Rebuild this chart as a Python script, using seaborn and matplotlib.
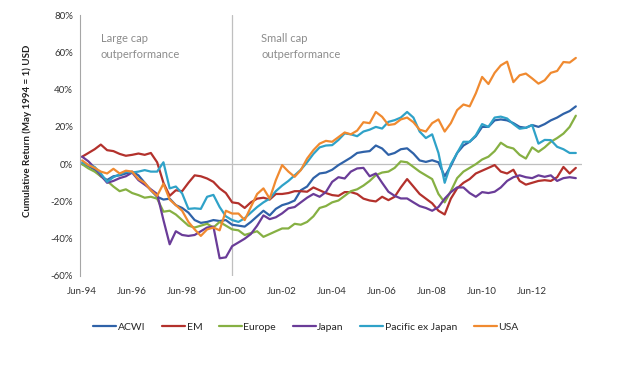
import pandas as pd
import numpy as np
import matplotlib
matplotlib.use("Agg")
import matplotlib.pyplot as plt
import matplotlib.dates as mdates
from matplotlib.ticker import FuncFormatter, FixedLocator
import seaborn as sns

# quarterly readings, Jun-94 onwards (cumulative return, %)
dates = pd.date_range("1994-06-01", periods=80, freq="3MS")

acwi = [0, -1, -3, -6.5, -8.5, -6.5, -6, -5, -4, -6,
        -10, -14, -17.5, -19, -18.5, -22, -23.5, -26, -30, -31.5,
        -31, -30, -30.5, -30, -32.5, -33, -33.5, -31, -28, -25,
        -27.5, -24, -22, -21, -19.5, -14, -12, -7.5, -5, -4.5,
        -3, -0.5, 1.5, 3.5, 6, 6.6, 7, 10, 8.4, 5,
        6, 8, 8.5, 5.7, 2, 1.2, 2.1, 1, -6.5, -1,
        6, 10, 12, 15, 20, 20, 23.5, 24, 23.5, 22,
        20, 19.5, 21, 20, 21.5, 23.5, 25, 27, 28.5, 31]

em = [4, 6, 8, 10.5, 7.5, 7, 5.5, 4.5, 5, 5.7,
      5, 6, 1, -10, -17, -14, -14.5, -10, -6, -6.5,
      -7.7, -9.5, -13, -15.5, -20.5, -21, -23.5, -20.5, -18.5, -18,
      -19, -16, -16, -15.5, -14.5, -14.5, -14.8, -12.5, -14, -15.5,
      -16.6, -17, -15, -15, -16, -18.5, -19.5, -20, -17.5, -19.3,
      -17.5, -12.5, -8, -12, -16, -18.5, -21, -25, -27, -18.5,
      -13, -10, -8, -5, -3.5, -2, -0.5, -4, -5, -3,
      -9, -11, -10, -9, -8.6, -9, -7, -1.5, -5, -2]

europe = [0, -2.3, -4, -6.5, -9, -12, -14.5, -13.5, -15.5, -16.6,
          -18, -17.5, -18.5, -25.5, -25, -27, -30, -33, -34, -33,
          -32, -34, -31, -33, -35, -35.5, -38, -37, -36, -39,
          -37.5, -36, -34.5, -34.5, -32, -32.5, -31, -28, -23.5, -22.5,
          -20.5, -19.5, -17, -14.5, -13.5, -11.5, -9, -5.9, -4.5, -4,
          -2, 1.5, 1, -1.5, -4, -6, -8, -16, -20.5, -14.5,
          -7.5, -4, -2, 0, 2.5, 4, 7, 11.5, 9.3, 8.4,
          5, 3, 9, 6.6, 9, 12, 14, 16.4, 20, 26]

japan = [4, 1.5, -2, -6, -10, -9, -7.5, -6.5, -4.5, -8.6,
         -11, -13.5, -16, -30, -43, -36, -38, -38.5, -38, -36,
         -34, -33.5, -50.5, -50, -44, -42, -40, -37.5, -33, -27.5,
         -29.5, -28.5, -26.4, -23.7, -23, -20.5, -18, -16, -17.5, -15,
         -9.5, -7, -7.7, -4, -2.3, -2, -6.5, -5, -10, -14.8,
         -17, -18.4, -18.4, -20.5, -22.5, -23.5, -25, -23, -18.5, -15,
         -12.5, -12.5, -15.5, -17.5, -15, -15.5, -14.8, -12.5, -9, -7,
         -6, -7, -7.5, -6, -6.8, -6, -9, -7.5, -7, -7.5]

pacific = [1, -0.5, -1.5, -5, -9.5, -7, -5.5, -4, -4.5, -4,
           -3.2, -4, -4, 1, -13, -12, -15.7, -24, -23.7, -24,
           -17.5, -16.5, -23, -28, -30, -31, -29, -26, -23, -20.5,
           -18.5, -14.5, -11.5, -9, -6, -3, 1, 5.5, 9, 10,
           10.2, 13, 16.5, 16, 15, 17.5, 18.5, 20, 19.1, 22.7,
           23.6, 25, 28, 25, 17.5, 14, 16, 6, -10, 0,
           6, 12, 12, 15.5, 21.5, 20, 25, 25.5, 24.5, 21.5,
           19, 19.5, 21, 11, 13, 12.9, 9.3, 8, 6, 6]

usa = [2, -0.5, -2, -4, -5, -2.5, -5, -3.5, -4, -8,
       -10, -14, -17, -10.5, -19, -22, -25, -31, -35, -38.5,
       -35, -34, -35.5, -25, -26.5, -26.5, -30, -23, -16, -13,
       -18.5, -8.6, -0.5, -4, -6.8, -3.2, 3, 7.5, 11, 12.5,
       12, 14.5, 17, 16, 18, 22.5, 22, 28, 25.4, 21,
       21.5, 24, 25, 22.5, 18.5, 17.5, 22, 24, 17.5, 22,
       29, 32, 31, 38, 46.8, 43, 49, 53, 55, 44,
       47.7, 48.6, 46, 43.2, 45, 49, 50, 54.8, 54.5, 57]

tick_dates = pd.date_range("1994-06-01", "2012-06-01", freq="24MS")

series_names = ["ACWI", "EM", "Europe", "Japan", "Pacific ex Japan", "USA"]
colors = ["#2f62a8", "#b3312c", "#86b043", "#6a3c98", "#2fa2c8", "#f08a30"]

df = pd.DataFrame({"date": dates, "ACWI": acwi, "EM": em, "Europe": europe,
                   "Japan": japan, "Pacific ex Japan": pacific, "USA": usa})
long = df.melt(id_vars="date", var_name="Index", value_name="ret")

sns.set_style("white")
plt.rcParams["font.family"] = ["Lato", "DejaVu Sans"]

fig = plt.figure(figsize=(6.3, 3.67), dpi=100)
ax = fig.add_axes([0.127, 0.248, 0.797, 0.711])

sns.lineplot(data=long, x="date", y="ret", hue="Index", hue_order=series_names,
             palette=colors, linewidth=1.6, ax=ax, legend=True)

ax.set_ylim(-60, 80)
ax.set_xlim(pd.Timestamp("1994-05-01"), pd.Timestamp("2014-06-01"))
ax.set_yticks(range(-60, 81, 20))
ax.yaxis.set_major_formatter(FuncFormatter(lambda v, p: f"{v:.0f}%"))
ax.xaxis.set_major_locator(FixedLocator(mdates.date2num(tick_dates)))
ax.xaxis.set_major_formatter(mdates.DateFormatter("%b-%y"))

for s in ["top", "right", "bottom"]:
    ax.spines[s].set_visible(False)
ax.spines["left"].set_color("#a6a6a6")
ax.tick_params(axis="y", length=3, color="#a6a6a6", labelsize=7, pad=2,
               labelcolor="#333333")
ax.tick_params(axis="x", length=0, labelsize=7, pad=8, labelcolor="#333333")

ax.axhline(0, color="#bfbfbf", lw=0.9, zorder=0)
ax.axvline(pd.Timestamp("2000-06-01"), color="#bfbfbf", lw=0.9, zorder=0)

ax.set_xlabel("")
ax.set_ylabel("")
fig.text(0.044, 0.643, "Cumulative Return (May 1994 = 1) USD", rotation=90,
         ha="center", va="center", fontsize=7, fontweight="bold", color="#222222")

ax.text(pd.Timestamp("1995-03-01"), 63, "Large cap\noutperformance",
        fontsize=8, color="#8c8c8c", va="center", ha="left", linespacing=1.5)
ax.text(pd.Timestamp("2001-08-01"), 63, "Small cap\noutperformance",
        fontsize=8, color="#8c8c8c", va="center", ha="left", linespacing=1.5)

handles, labels = ax.get_legend_handles_labels()
ax.legend(handles, labels, loc="center", bbox_to_anchor=(306 / 630, 1 - 327 / 367),
          bbox_transform=fig.transFigure, ncol=6, frameon=False, fontsize=7.5,
          handlelength=2.2, handletextpad=0.15, columnspacing=1.6)

fig.savefig("out.png", dpi=100)
